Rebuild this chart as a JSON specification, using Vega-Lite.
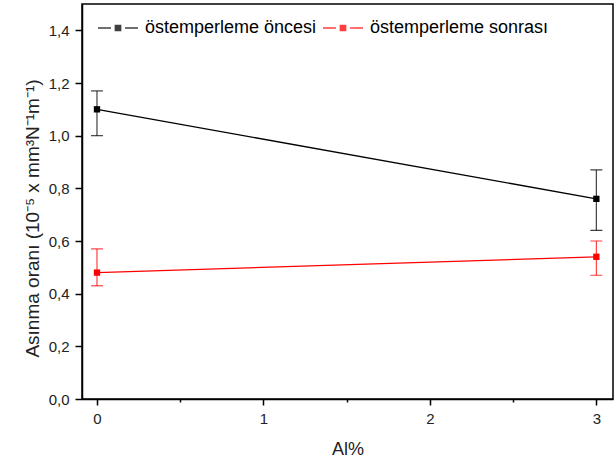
{
  "$schema": "https://vega.github.io/schema/vega-lite/v6.json",
  "autosize": "none",
  "width": 531,
  "height": 395,
  "padding": {"left": 82, "top": 4, "right": 3, "bottom": 62},
  "background": "white",
  "config": {
    "view": {"stroke": "black", "strokeWidth": 1.5},
    "font": "Liberation Sans",
    "axis": {"domainColor": "black", "domainWidth": 1.5, "tickColor": "black", "tickWidth": 1.5, "labelColor": "#222", "labelFont": "Liberation Sans", "labelFontSize": 15, "titleFont": "Liberation Sans", "titleFontWeight": "normal", "titleFontSize": 18, "titleColor": "#222", "grid": false}
  },
  "data": {"values": [
    {"al": 0, "y": 1.10, "lo": 1.00, "hi": 1.17, "s": "östemperleme öncesi"},
    {"al": 3, "y": 0.76, "lo": 0.64, "hi": 0.87, "s": "östemperleme öncesi"},
    {"al": 0, "y": 0.48, "lo": 0.43, "hi": 0.57, "s": "östemperleme sonrası"},
    {"al": 3, "y": 0.54, "lo": 0.47, "hi": 0.60, "s": "östemperleme sonrası"}
  ]},
  "encoding": {
    "x": {"field": "al", "type": "quantitative", "scale": {"domain": [-0.09, 3.1], "nice": false, "zero": false},
      "axis": {"title": "Al%", "values": [0, 0.5, 1, 1.5, 2, 2.5, 3], "labelExpr": "datum.value % 1 == 0 ? format(datum.value, 'd') : ''", "tickSize": {"condition": {"test": "datum.value % 1 == 0", "value": 6}, "value": 3}, "labelPadding": 6, "titleY": 41}},
    "color": {"field": "s", "type": "nominal", "scale": {"domain": ["östemperleme öncesi", "östemperleme sonrası"], "range": ["black", "#ff0000"]},
      "legend": {"title": null, "orient": "none", "legendX": 15, "legendY": 3, "direction": "horizontal", "labelFontSize": 18, "labelColor": "black", "labelFont": "Liberation Sans", "symbolType": "M-1,0H-0.35M0.35,0H1M-0.13,-0.13H0.13V0.13H-0.13Z", "symbolSize": 1600, "symbolStrokeWidth": 1.5, "columnPadding": 3, "labelOffset": 6, "symbolOffset": 0, "labelLimit": 300}}
  },
  "layer": [
    {"mark": {"type": "line", "strokeWidth": 1.3},
     "encoding": {"y": {"field": "y", "type": "quantitative", "scale": {"domain": [0, 1.5], "nice": false},
       "axis": {"title": "Asınma oranı (10⁻⁵ x mm³N⁻¹m⁻¹)", "values": [0, 0.1, 0.2, 0.3, 0.4, 0.5, 0.6, 0.7, 0.8, 0.9, 1.0, 1.1, 1.2, 1.3, 1.4], "labelExpr": "round(datum.value*10) % 2 == 0 ? replace(format(datum.value, '.1f'), '.', ',') : ''", "tickSize": {"condition": {"test": "round(datum.value*10) % 2 == 0", "value": 7}, "value": 4}, "labelPadding": 6, "titleX": -40, "titleY": 214, "titleFontSize": 19}}}},
    {"mark": {"type": "rule", "strokeWidth": 1.2, "opacity": 0.75},
     "encoding": {"y": {"field": "lo", "type": "quantitative"}, "y2": {"field": "hi"}}},
    {"mark": {"type": "tick", "size": 12, "thickness": 1.2, "opacity": 0.75, "orient": "horizontal"},
     "encoding": {"y": {"field": "lo", "type": "quantitative"}}},
    {"mark": {"type": "tick", "size": 12, "thickness": 1.2, "opacity": 0.75, "orient": "horizontal"},
     "encoding": {"y": {"field": "hi", "type": "quantitative"}}},
    {"mark": {"type": "point", "shape": "square", "filled": true, "size": 40, "opacity": 1},
     "encoding": {"y": {"field": "y", "type": "quantitative"}}}
  ]
}
